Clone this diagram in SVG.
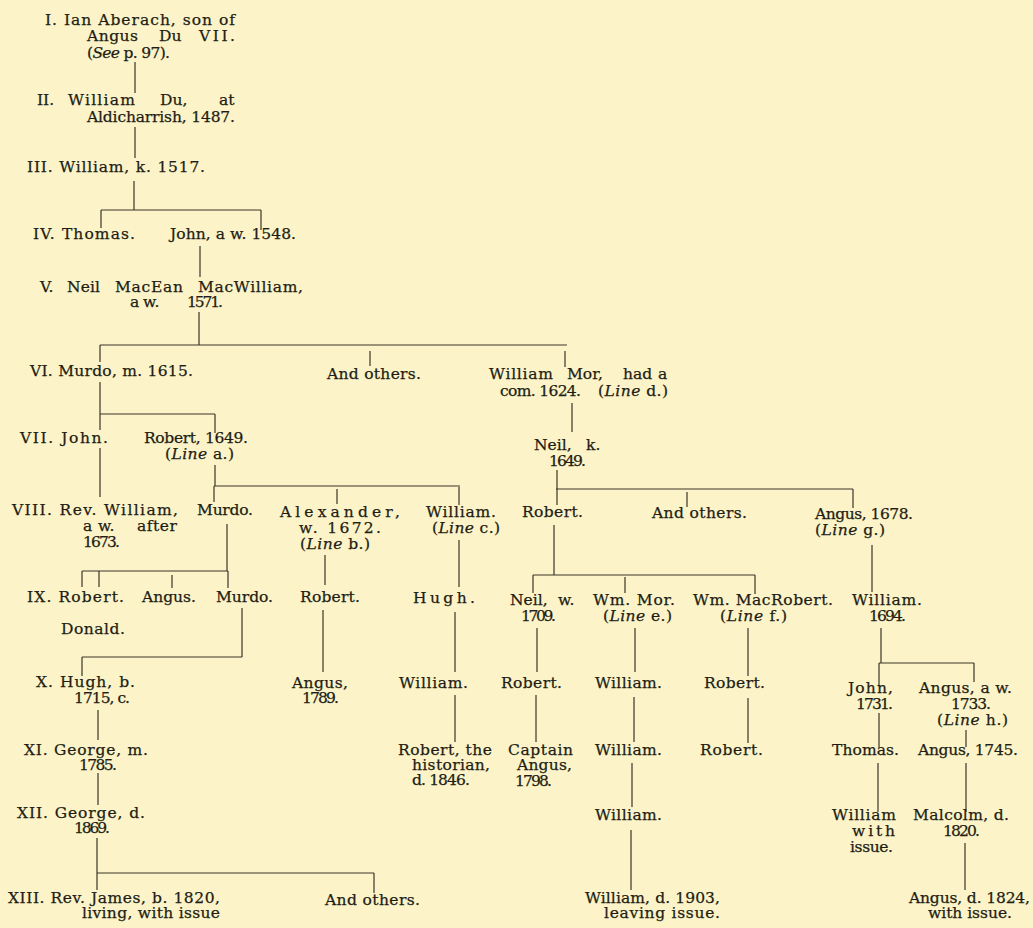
<svg xmlns="http://www.w3.org/2000/svg" width="1033" height="928" viewBox="0 0 1033 928">
<style>
text{font-family:"DejaVu Serif","Liberation Serif",serif;font-size:15.5px;fill:#221d14;stroke:#221d14;stroke-width:0.25}
.i{font-style:italic}
#connectors path{stroke:#3b352a;stroke-width:1.2;fill:none}
</style>
<rect width="1033" height="928" fill="#fcf4c8"/>
<g id="connectors">
<path d="M135,62V93M135,127V158M134,181V210M101,210H261M101,210V228M261,210V230"/>
<path d="M200,246V277M199,312V345M100,345H567M100,345V362M370,351V366M565,351V367"/>
<path d="M100,382V430M100,414H215M215,414V433M100,448V497M572,403V432"/>
<path d="M215,465V486M214,486H460M214,486V502M337,489V504M459,487V505"/>
<path d="M557,470V489M556,489H853M557,489V505M687,492V507M853,489V508"/>
<path d="M227,524V571M82,571H228M82,571V587M99,571V587M172,575V588M228,571V588"/>
<path d="M242,608V657M82,657H242M82,657V676"/>
<path d="M325,555V585M323,610V672M459,540V587M455,612V672M455,695V742"/>
<path d="M554,525V575M533,575H755M533,575V593M625,577V593M755,575V594"/>
<path d="M537,628V672M536,695V742M635,628V672M634,697V742M632,763V807M631,830V890"/>
<path d="M748,628V676M748,698V743M872,545V592M881,628V663M879,663H974M879,663V686M974,663V682"/>
<path d="M879,713V747M878,763V812M966,730V747M966,763V812M965,843V890"/>
<path d="M98,710V740M98,773V805M97,838V890M97,873H374M374,873V893"/>
</g>
<g id="n1"><text x="45" y="25" textLength="190">I. Ian Aberach, son of</text><text x="87" y="41" textLength="51">Angus</text><text x="159" y="41">Du</text><text x="199" y="41" textLength="36">VII.</text><text x="87" y="58" textLength="83">(<tspan class="i">See</tspan> p. 97).</text></g>
<g id="n2"><text x="37" y="105">II.</text><text x="68" y="105" textLength="67">William</text><text x="160" y="105">Du,</text><text x="219" y="105">at</text><text x="87" y="122" textLength="148">Aldicharrish, 1487.</text></g>
<g id="n3"><text x="27" y="172" textLength="178">III. William, k. 1517.</text></g>
<g id="n4a"><text x="33" y="239" textLength="102">IV. Thomas.</text></g>
<g id="n4b"><text x="170" y="239" textLength="126">John, a w. 1548.</text></g>
<g id="n5"><text x="40" y="292">V.</text><text x="67" y="292" textLength="33">Neil</text><text x="115" y="292" textLength="68">MacEan</text><text x="198" y="292" textLength="105">MacWilliam,</text><text x="130" y="307">a</text><text x="143" y="307">w.</text><text x="187" y="307" textLength="36">1571.</text></g>
<g id="n6a"><text x="30" y="376" textLength="163">VI. Murdo, m. 1615.</text></g>
<g id="n6b"><text x="327" y="379" textLength="94">And others.</text></g>
<g id="n6c"><text x="489" y="379" textLength="64">William</text><text x="567" y="379">Mor,</text><text x="623" y="379">had</text><text x="658" y="379">a</text><text x="500" y="396" textLength="81">com. 1624.</text><text x="598" y="396" textLength="70">(<tspan class="i">Line</tspan> d.)</text></g>
<g id="n7a"><text x="20" y="443" textLength="88">VII. John.</text></g>
<g id="n7b"><text x="144" y="443" textLength="104">Robert, 1649.</text><text x="165" y="459" textLength="69">(<tspan class="i">Line</tspan> a.)</text></g>
<g id="n7c"><text x="534" y="450">Neil,</text><text x="586" y="450">k.</text><text x="549" y="466" textLength="37">1649.</text></g>
<g id="n8a"><text x="12" y="515" textLength="166">VIII. Rev. William,</text><text x="83" y="531">a</text><text x="98" y="531">w.</text><text x="137" y="531" textLength="40">after</text><text x="83" y="547" textLength="37">1673.</text></g>
<g id="n8b"><text x="197" y="515" textLength="56">Murdo.</text></g>
<g id="n8c"><text x="280" y="517" textLength="120">Alexander,</text><text x="299" y="533" textLength="82">w. 1672.</text><text x="300" y="549" textLength="70">(<tspan class="i">Line</tspan> b.)</text></g>
<g id="n8d"><text x="426" y="517" textLength="70">William.</text><text x="432" y="533" textLength="68">(<tspan class="i">Line</tspan> c.)</text></g>
<g id="n8e"><text x="522" y="517" textLength="61">Robert.</text></g>
<g id="n8f"><text x="652" y="518" textLength="95">And others.</text></g>
<g id="n8g"><text x="815" y="519" textLength="98">Angus, 1678.</text><text x="815" y="535" textLength="70">(<tspan class="i">Line</tspan> g.)</text></g>
<g id="n9a"><text x="27" y="602" textLength="97">IX. Robert.</text></g>
<g id="n9b"><text x="142" y="602" textLength="54">Angus.</text></g>
<g id="n9c"><text x="216" y="602" textLength="57">Murdo.</text></g>
<g id="n9d"><text x="61" y="634" textLength="64">Donald.</text></g>
<g id="n9e"><text x="300" y="602" textLength="60">Robert.</text></g>
<g id="n9f"><text x="413" y="603" textLength="62">Hugh.</text></g>
<g id="n9g"><text x="510" y="605">Neil,</text><text x="558" y="605">w.</text><text x="521" y="621" textLength="35">1709.</text></g>
<g id="n9h"><text x="593" y="605" textLength="82">Wm. Mor.</text><text x="603" y="621" textLength="69">(<tspan class="i">Line</tspan> e.)</text></g>
<g id="n9i"><text x="693" y="605" textLength="140">Wm. MacRobert.</text><text x="720" y="621" textLength="67">(<tspan class="i">Line</tspan> f.)</text></g>
<g id="n9j"><text x="852" y="605" textLength="70">William.</text><text x="869" y="621" textLength="37">1694.</text></g>
<g id="n10a"><text x="36" y="687" textLength="99">X. Hugh, b.</text><text x="74" y="703" textLength="56">1715, c.</text></g>
<g id="n10b"><text x="292" y="688" textLength="56">Angus,</text><text x="302" y="703" textLength="37">1789.</text></g>
<g id="n10c"><text x="399" y="688" textLength="69">William.</text></g>
<g id="n10d"><text x="501" y="688" textLength="61">Robert.</text></g>
<g id="n10e"><text x="595" y="688" textLength="67">William.</text></g>
<g id="n10f"><text x="704" y="688" textLength="61">Robert.</text></g>
<g id="n10g"><text x="848" y="693" textLength="45">John,</text><text x="856" y="709" textLength="37">1731.</text></g>
<g id="n10h"><text x="919" y="693" textLength="93">Angus, a w.</text><text x="951" y="709" textLength="40">1733.</text><text x="937" y="725" textLength="71">(<tspan class="i">Line</tspan> h.)</text></g>
<g id="n11a"><text x="24" y="755" textLength="124">XI. George, m.</text><text x="79" y="770" textLength="38">1785.</text></g>
<g id="n11b"><text x="398" y="755" textLength="94">Robert, the</text><text x="412" y="770" textLength="78">historian,</text><text x="412" y="785" textLength="58">d. 1846.</text></g>
<g id="n11c"><text x="508" y="755" textLength="65">Captain</text><text x="517" y="770" textLength="55">Angus,</text><text x="515" y="786" textLength="37">1798.</text></g>
<g id="n11d"><text x="595" y="755" textLength="67">William.</text></g>
<g id="n11e"><text x="700" y="755" textLength="63">Robert.</text></g>
<g id="n11f"><text x="832" y="755" textLength="67">Thomas.</text></g>
<g id="n11g"><text x="918" y="755" textLength="100">Angus, 1745.</text></g>
<g id="n12a"><text x="17" y="818" textLength="128">XII. George, d.</text><text x="74" y="833" textLength="36">1869.</text></g>
<g id="n12b"><text x="595" y="820" textLength="67">William.</text></g>
<g id="n12c"><text x="832" y="820" textLength="64">William</text><text x="852" y="836" textLength="43">with</text><text x="850" y="852" textLength="43">issue.</text></g>
<g id="n12d"><text x="913" y="820" textLength="96">Malcolm, d.</text><text x="943" y="836" textLength="37">1820.</text></g>
<g id="n13a"><text x="8" y="903" textLength="212">XIII. Rev. James, b. 1820,</text><text x="82" y="918" textLength="138">living, with issue</text></g>
<g id="n13b"><text x="325" y="905" textLength="95">And others.</text></g>
<g id="n13c"><text x="585" y="903" textLength="135">William, d. 1903,</text><text x="604" y="918" textLength="116">leaving issue.</text></g>
<g id="n13d"><text x="909" y="903" textLength="121">Angus, d. 1824,</text><text x="928" y="918" textLength="84">with issue.</text></g>
</svg>
